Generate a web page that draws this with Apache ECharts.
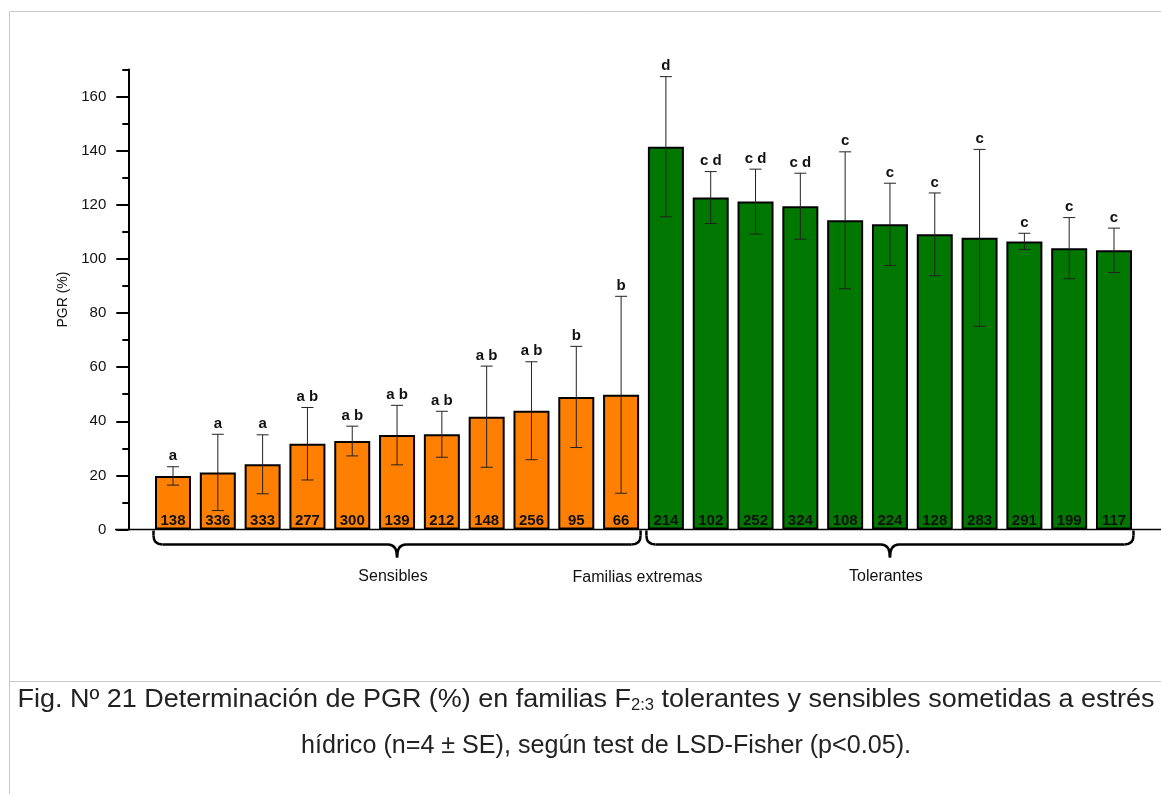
<!DOCTYPE html>
<html><head><meta charset="utf-8">
<script src="https://cdn.jsdelivr.net/npm/echarts@6/dist/echarts.min.js"></script>
<style>html,body{margin:0;padding:0;background:#fff}#c{width:1161px;height:794px}</style>
</head><body><div id="c"></div>
<script>
// ---- data ----
const families = ['138','336','333','277','300','139','212','148','256','95','66',
                  '214','102','252','324','108','224','128','283','291','199','117'];
const pgr = [19.8,21.1,24.1,31.7,32.7,34.9,35.2,41.7,43.9,49.0,49.8,
             141.5,122.7,121.2,119.5,114.3,112.8,109.1,107.8,106.5,104.0,103.2];
const se  = [3.4,14.1,10.9,13.4,5.5,11.0,8.5,18.7,18.1,18.7,36.4,
             25.9,9.6,12.0,12.2,25.3,15.2,15.3,32.7,3.0,11.3,8.2];
const letters = ['a','a','a','a b','a b','a b','a b','a b','a b','b','b',
                 'd','c d','c d','c d','c','c','c','c','c','c','c'];
const groupNames = ['Sensibles','Tolerantes'];
const groupSizes = [11, 11];
const middleLabel = 'Familias extremas';
const yMajorTicks = [0,20,40,60,80,100,120,140,160];
const yMinorTicks = [10,30,50,70,90,110,130,150,170];
const yName = 'PGR (%)';
const captionPre = 'Fig. Nº 21 Determinación de PGR (%) en familias F';
const captionSub = '2:3';
const captionPost = ' tolerantes y sensibles sometidas a estrés';
const captionLine2 = 'hídrico (n=4 ± SE), según test de LSD-Fisher (p<0.05).';

// ---- chart ----
const FONT = "'Liberation Sans', Arial, sans-serif";
const barColors = ['#ff8000', '#007800'];
const groupOf = i => (i < groupSizes[0] ? 0 : 1);
const chart = echarts.init(document.getElementById('c'), null, {renderer: 'canvas'});

const option = {
  animation: false,
  grid: {left: 150.6, right: 24.6, top: 69.6, bottom: 264.5},
  xAxis: {type: 'category', data: families,
    axisLine: {show: false}, axisTick: {show: false}, axisLabel: {show: false}, splitLine: {show: false}},
  yAxis: [{
    type: 'value', min: 0, max: 170, interval: 10, offset: 22.3, position: 'left',
    axisLine: {show: true, lineStyle: {color: '#000', width: 2}},
    axisTick: {show: true, length: 12, customValues: yMajorTicks, lineStyle: {color: '#000', width: 2}},
    axisLabel: {customValues: yMajorTicks, margin: 22, color: '#111', fontSize: 15, fontFamily: FONT},
    splitLine: {show: false},
    name: yName, nameLocation: 'middle', nameGap: 54, nameRotate: 90,
    nameTextStyle: {color: '#111', fontSize: 14, fontFamily: FONT}
  }, {
    type: 'value', min: 0, max: 170, interval: 10, offset: 22.3, position: 'left',
    axisLine: {show: false},
    axisTick: {show: true, length: 6, customValues: yMinorTicks, lineStyle: {color: '#000', width: 2}},
    axisLabel: {show: false}, splitLine: {show: false}
  }],
  series: [{
    type: 'bar', barWidth: 36,
    data: pgr.map((v, i) => ({value: v, itemStyle: {color: barColors[groupOf(i)]}})),
    itemStyle: {borderColor: '#000', borderWidth: 2},
    label: {show: true, position: 'insideBottom', distance: 1, formatter: p => p.name,
      fontWeight: 'bold', fontSize: 15, color: '#111', fontFamily: FONT},
    z: 2
  }, {
    type: 'custom', z: 5,
    data: pgr.map((v, i) => [i, v, se[i]]),
    encode: {x: 0, y: 1},
    renderItem: (params, api) => {
      const i = api.value(0), m = api.value(1), e = api.value(2);
      const t = api.coord([i, m + e]), b = api.coord([i, m - e]);
      const hw = 6, st = {stroke: '#222', lineWidth: 1};
      return {type: 'group', children: [
        {type: 'line', shape: {x1: t[0], y1: t[1], x2: b[0], y2: b[1]}, style: st},
        {type: 'line', shape: {x1: t[0]-hw, y1: t[1], x2: t[0]+hw, y2: t[1]}, style: st},
        {type: 'line', shape: {x1: b[0]-hw, y1: b[1], x2: b[0]+hw, y2: b[1]}, style: st},
        {type: 'text', style: {text: letters[params.dataIndex], x: t[0], y: t[1] - 3,
          align: 'center', verticalAlign: 'bottom', font: 'bold 15px ' + FONT, fill: '#111'}}
      ]};
    }
  }]
};
chart.setOption(option);

// ---- decorations (axis baseline, braces, group labels, frame, caption) ----
const y0 = chart.convertToPixel({yAxisIndex: 0}, 0);
const cx = i => chart.convertToPixel({xAxisIndex: 0}, i);
const half = 18;
const braceStyle = {fill: 'none', stroke: '#000', lineWidth: 2.5};
function brace(x1, x2) {
  const yt = y0 + 1, yh = y0 + 15, yp = y0 + 28, r = 9, xm = (x1 + x2) / 2;
  const L = (a, b, c, d) => ({type: 'line', shape: {x1: a, y1: b, x2: c, y2: d}, style: braceStyle, z: 10});
  const Q = (a, b, cpa, cpb, c, d) => ({type: 'bezierCurve',
    shape: {x1: a, y1: b, cpx1: cpa, cpy1: cpb, x2: c, y2: d}, style: braceStyle, z: 10});
  return [
    L(x1, yt, x1, yh - r), Q(x1, yh - r, x1, yh, x1 + r, yh), L(x1 + r, yh, xm - r, yh),
    Q(xm - r, yh, xm, yh, xm, yp), Q(xm, yp, xm, yh, xm + r, yh), L(xm + r, yh, x2 - r, yh),
    Q(x2 - r, yh, x2, yh, x2, yh - r), L(x2, yh - r, x2, yt)
  ];
}
const graphics = [];
graphics.push({type: 'rect', shape: {x: 9.5, y: 11.5, width: 1160, height: 800},
  style: {fill: 'none', stroke: '#c8c8c8', lineWidth: 1}, silent: true});
graphics.push({type: 'line', shape: {x1: 9.5, y1: 681.5, x2: 1161, y2: 681.5},
  style: {stroke: '#c8c8c8', lineWidth: 1}, silent: true});
graphics.push({type: 'line', shape: {x1: 115, y1: y0, x2: 1161, y2: y0},
  style: {stroke: '#000', lineWidth: 1.5}, z: 10});
let start = 0;
groupSizes.forEach((n, g) => {
  const x1 = cx(start) - half - 1.5, x2 = cx(start + n - 1) + half + 1.5;
  brace(x1, x2).forEach(el => graphics.push(el));
  graphics.push({type: 'text', x: (x1 + x2) / 2 - 4, y: y0 + 47,
    style: {text: groupNames[g], align: 'center', verticalAlign: 'middle',
      font: '16px ' + FONT, fill: '#111'}, z: 10});
  start += n;
});
const mid = (cx(groupSizes[0] - 1) + cx(groupSizes[0])) / 2;
graphics.push({type: 'text', x: mid - 6, y: y0 + 48,
  style: {text: middleLabel, align: 'center', verticalAlign: 'middle', font: '16px ' + FONT, fill: '#111'}, z: 10});

// caption: Arial-like font compressed horizontally to the reference's line widths
const CAPSIZE = 26, SUBSIZE = 16;
const mctx = document.createElement('canvas').getContext('2d');
mctx.font = CAPSIZE + "px 'Liberation Sans'";
let w1 = mctx.measureText(captionPre + captionPost).width;
const w2 = mctx.measureText(captionLine2).width;
mctx.font = SUBSIZE + "px 'Liberation Sans'";
w1 += mctx.measureText(captionSub).width;
graphics.push({type: 'text', x: 586, y: 700, scaleX: 1137 / w1,
  style: {x: 0, y: 0, text: captionPre + '{sub|' + captionSub + '}' + captionPost,
    align: 'center', verticalAlign: 'middle', font: CAPSIZE + 'px ' + FONT, fill: '#222',
    rich: {sub: {fontSize: SUBSIZE, fontFamily: FONT, fill: '#222', verticalAlign: 'bottom', padding: [12, 0, 0, 0]}}}});
graphics.push({type: 'text', x: 606, y: 746, scaleX: 610 / w2,
  style: {x: 0, y: 0, text: captionLine2, align: 'center', verticalAlign: 'middle',
    font: CAPSIZE + 'px ' + FONT, fill: '#222'}});
chart.setOption({graphic: graphics});
</script>
</body></html>
